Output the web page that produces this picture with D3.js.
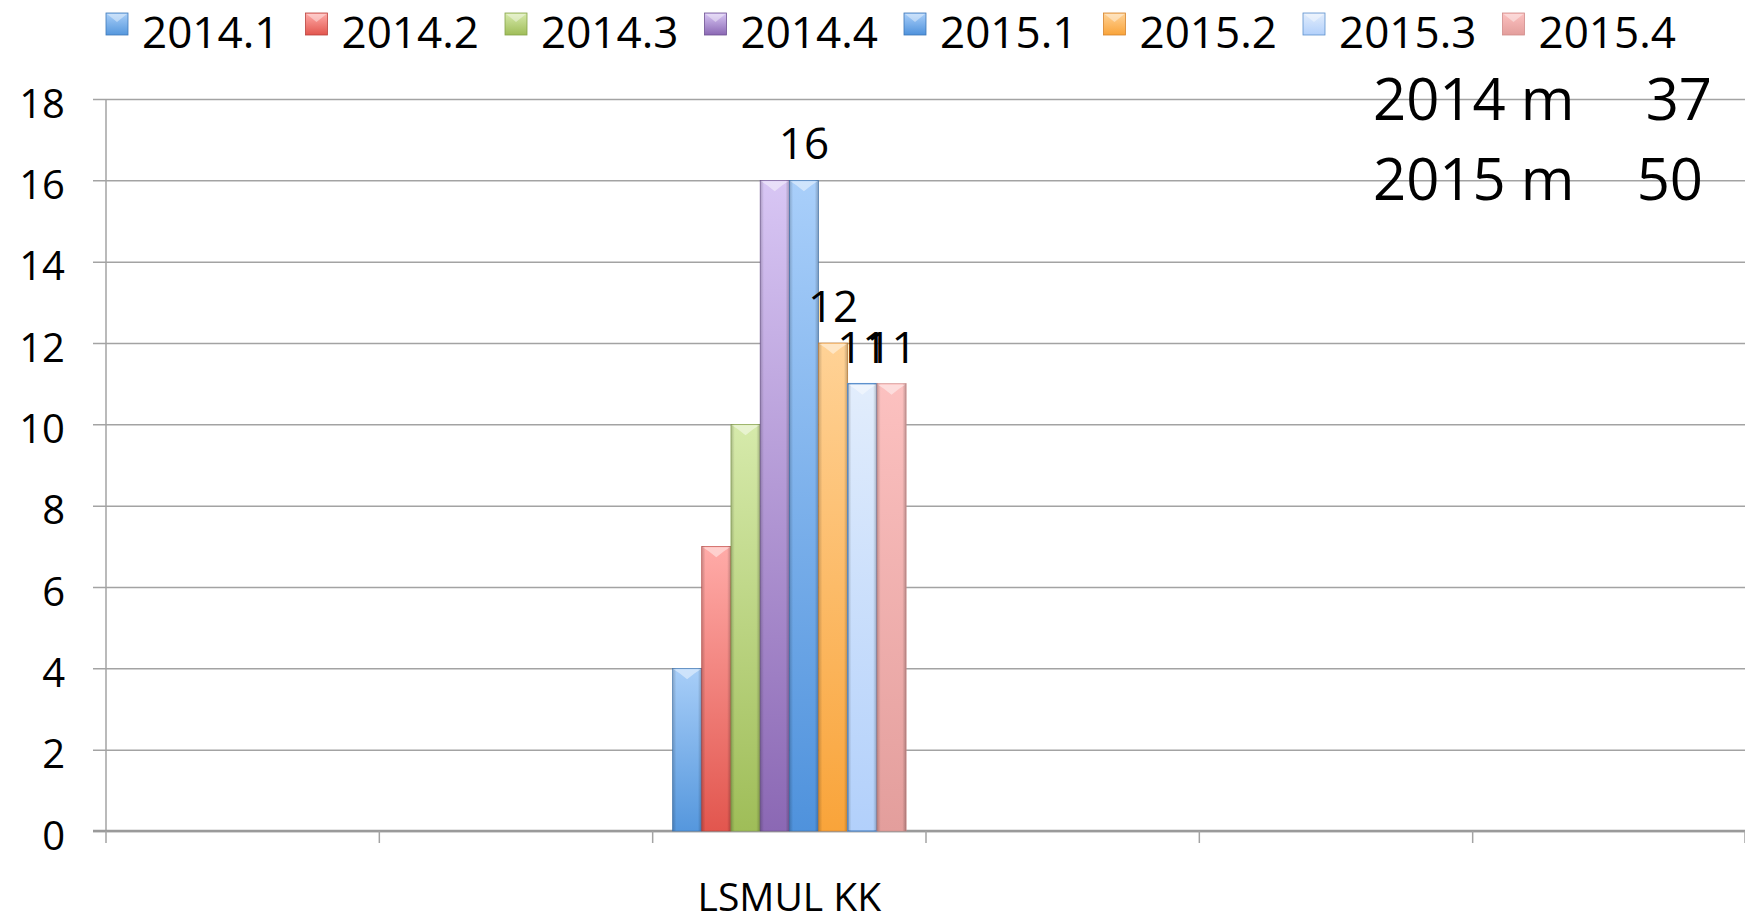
<!DOCTYPE html>
<html>
<head>
<meta charset="utf-8">
<script src="https://cdn.jsdelivr.net/npm/d3@7"></script>
<style>
  html, body { margin: 0; padding: 0; background: #ffffff; }
  svg { display: block; }
  text { font-family: "Open Sans", "Liberation Sans", sans-serif; fill: #000; }
</style>
</head>
<body>
<svg id="chart" width="1745" height="922"></svg>
<script>
// ---------------- data ----------------
const categories = ["", "", "LSMUL KK", "", "", ""];
const seriesNames = ["2014.1", "2014.2", "2014.3", "2014.4", "2015.1", "2015.2", "2015.3", "2015.4"];
const lsmulValues = [4, 7, 10, 16, 16, 12, 11, 11];
const dataCategoryIndex = 2;
const labelledSeries = ["2015.1", "2015.2", "2015.3", "2015.4"];
const yTicks = [0, 2, 4, 6, 8, 10, 12, 14, 16, 18];
const summaryLabels = ["2014 m", "2015 m"];
const summaryTotals = [37, 50];

// colours (top of gradient, bottom of gradient, outline)
const seriesTop    = ["#a8cef8", "#ffaba8", "#d6eaab", "#d8c6f4", "#a9cffa", "#ffd296", "#e2edfc", "#fcc1c0"];
const seriesBottom = ["#5597dd", "#e2564e", "#9fbd58", "#8b68b4", "#4f92dc", "#f9a43a", "#b2d0fb", "#e39e9c"];
const seriesEdge   = ["#3f79b8", "#b9433e", "#86a34a", "#6e5292", "#3d76b6", "#d5832c", "#5d91cd", "#d08c8a"];

// ---------------- layout ----------------
const svg = d3.select("#chart");
const W = 1745;
const plotLeft = 106, plotRight = 1746;
const yTop = 99, yBottom = 831;

const x = d3.scaleBand().domain(d3.range(categories.length)).range([plotLeft, plotRight]).paddingInner(0).paddingOuter(0);
const xs = d3.scaleBand().domain(seriesNames).range([0, x.bandwidth()]).paddingInner(0).paddingOuter(0.68);
const y = d3.scaleLinear().domain([0, 18]).range([yBottom, yTop]);

// gradients
const defs = svg.append("defs");
seriesNames.forEach((s, i) => {
  const g = defs.append("linearGradient").attr("id", "grad" + i).attr("x1", 0).attr("y1", 0).attr("x2", 0).attr("y2", 1);
  g.append("stop").attr("offset", "0%").attr("stop-color", seriesTop[i]);
  g.append("stop").attr("offset", "100%").attr("stop-color", seriesBottom[i]);
});
const side = defs.append("linearGradient").attr("id", "sideShade").attr("x1", 0).attr("y1", 0).attr("x2", 1).attr("y2", 0);
side.append("stop").attr("offset", "0%").attr("stop-color", "#000").attr("stop-opacity", 0.2);
side.append("stop").attr("offset", "13%").attr("stop-color", "#000").attr("stop-opacity", 0.0);
side.append("stop").attr("offset", "87%").attr("stop-color", "#000").attr("stop-opacity", 0.0);
side.append("stop").attr("offset", "100%").attr("stop-color", "#000").attr("stop-opacity", 0.24);

// y axis with gridlines
const yAxis = d3.axisLeft(y).tickValues(yTicks).tickSizeInner(-(W - 93)).tickSizeOuter(0).tickPadding(28);
const yg = svg.append("g").attr("transform", "translate(93,0)").call(yAxis);
yg.select(".domain").remove();
yg.selectAll(".tick line").attr("stroke", "#a3a3a3").attr("stroke-width", 1.5);
yg.selectAll(".tick text").attr("font-size", 40).attr("dy", 0).attr("y", 18)
  .style("font-family", "'Open Sans', sans-serif");

// vertical axis line
svg.append("line").attr("x1", plotLeft).attr("x2", plotLeft).attr("y1", y(18)).attr("y2", yBottom)
  .attr("stroke", "#a3a3a3").attr("stroke-width", 1.5);

// x axis
svg.append("line").attr("x1", 93).attr("x2", W).attr("y1", yBottom).attr("y2", yBottom)
  .attr("stroke", "#9a9a9a").attr("stroke-width", 2.5);
const boundaries = d3.range(categories.length).map(i => x(i)).concat([plotRight - 1]);
svg.append("g").selectAll("line").data(boundaries).join("line")
  .attr("x1", d => d).attr("x2", d => d).attr("y1", yBottom).attr("y2", yBottom + 12)
  .attr("stroke", "#a3a3a3").attr("stroke-width", 1.5);
const xAxis = d3.axisBottom(x).tickFormat(i => categories[i]).tickSize(0);
const xg = svg.append("g").attr("transform", `translate(0,${yBottom})`).call(xAxis);
xg.select(".domain").remove();
xg.selectAll(".tick text").attr("font-size", 39).attr("y", 80).attr("dy", 0)
  .style("font-family", "'Open Sans', sans-serif");

// bars
const barData = seriesNames.map((s, i) => ({ s, i, v: lsmulValues[i] }));
const barsG = svg.append("g").attr("transform", `translate(${x(dataCategoryIndex)},0)`);
const bar = barsG.selectAll("g.bar").data(barData).join("g").attr("class", "bar");
bar.append("rect")
  .attr("x", d => xs(d.s)).attr("width", xs.bandwidth())
  .attr("y", d => y(d.v)).attr("height", d => y(0) - y(d.v))
  .attr("fill", d => `url(#grad${d.i})`)
  .attr("stroke", d => seriesEdge[d.i]).attr("stroke-width", d => d.s === "2015.3" ? 1.4 : 0.6);
bar.append("rect")
  .attr("x", d => xs(d.s)).attr("width", xs.bandwidth())
  .attr("y", d => y(d.v)).attr("height", d => y(0) - y(d.v))
  .attr("fill", "url(#sideShade)");
// top bevel
bar.append("path")
  .attr("d", d => {
    const x0 = xs(d.s), x1 = x0 + xs.bandwidth(), t = y(d.v), c = (x0 + x1) / 2;
    return `M${x0 + 1},${t + 1} L${x1 - 1},${t + 1} L${x1 - 7},${t + 5} L${c},${t + 11} L${x0 + 7},${t + 5} Z`;
  })
  .attr("fill", "#ffffff").attr("fill-opacity", 0.45);

// data labels
barsG.selectAll("text.lbl").data(barData.filter(d => labelledSeries.includes(d.s))).join("text")
  .attr("class", "lbl")
  .attr("x", d => xs(d.s) + xs.bandwidth() / 2)
  .attr("y", d => y(d.v) - 21)
  .attr("text-anchor", "middle").attr("font-size", 44)
  .text(d => d.v);

// legend
const legend = svg.append("g");
const li = legend.selectAll("g").data(seriesNames).join("g")
  .attr("transform", (d, i) => `translate(${106 + i * 199.5},13)`);
li.append("rect").attr("width", 22).attr("height", 22)
  .attr("fill", (d, i) => `url(#grad${i})`).attr("stroke", (d, i) => seriesEdge[i]).attr("stroke-width", 0.8);
li.append("path").attr("d", "M1,1 L21,1 L11,9 Z").attr("fill", "#fff").attr("fill-opacity", 0.4);
li.append("text").attr("x", 36).attr("y", 35).attr("font-size", 44).text(d => d);

// summary annotation
const ann = svg.append("g");
ann.selectAll("text.lab").data(summaryLabels).join("text").attr("class", "lab")
  .attr("x", 1373).attr("y", (d, i) => 120 + i * 80).attr("font-size", 58).text(d => d);
ann.selectAll("text.tot").data(summaryTotals).join("text").attr("class", "tot")
  .attr("x", (d, i) => i === 0 ? 1712 : 1703).attr("y", (d, i) => 120 + i * 80)
  .attr("text-anchor", "end").attr("font-size", 58).text(d => d);
</script>
</body>
</html>
